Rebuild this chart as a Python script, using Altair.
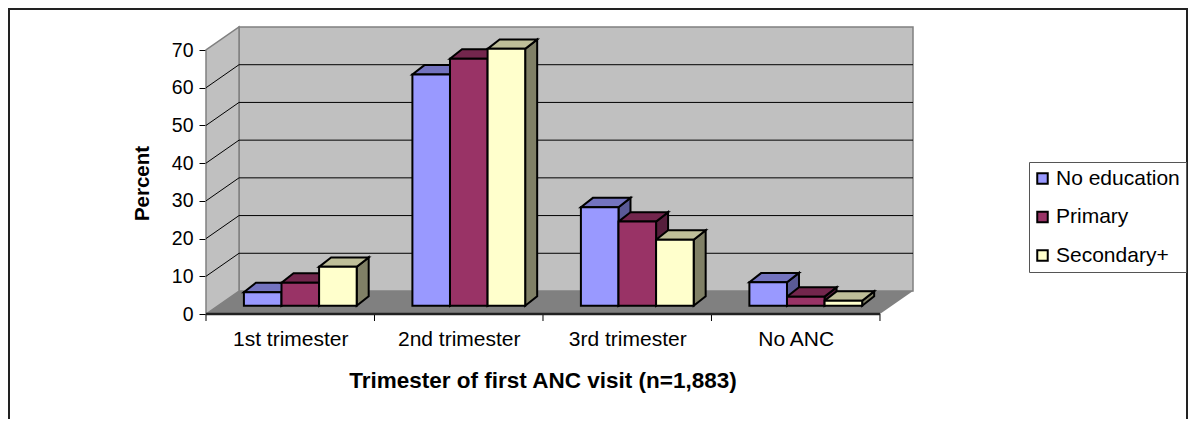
import altair as alt
import pandas as pd

categories = ["1st trimester", "2nd trimester", "3rd trimester", "No ANC"]
series = ["No education", "Primary", "Secondary+"]
no_education = [3.6, 61.3, 26.1, 6.2]
primary = [6.1, 65.5, 22.3, 2.4]
secondary = [10.3, 68.1, 17.5, 1.3]
front_colors = ["#9999FF", "#993366", "#FFFFCC"]
top_colors = ["#7373BF", "#73264D", "#BFBF99"]
side_colors = ["#5A5A96", "#561E3C", "#808066"]
y_ticks = [0, 10, 20, 30, 40, 50, 60, 70]

FONT = "Liberation Sans"
PW, PH = 707, 287
PAD_L, PAD_T = 198, 19
SVG_W, SVG_H = 1180, 411

# Oblique projection: depth of the box expressed in axis units
BOX_DX, BOX_DY = 0.196, 6.1      # whole floor depth
BAR_DX, BAR_DY = 0.0712, 2.5     # depth of one bar
BASE = 2.2                       # bar base sits this far up the floor
GAP, BW = 0.225, 0.2231
XMAX, YMAX = 4 + BOX_DX, 70 + BOX_DY

xs = alt.Scale(domain=[0, XMAX], nice=False, zero=False)
ys = alt.Scale(domain=[0, YMAX], nice=False, zero=False)

label_expr = "[" + ",".join(f"'{c}'" for c in categories) + "][floor(datum.value)]"
x_axis = alt.Axis(
    values=[i + 0.5 for i in range(len(categories))], labelExpr=label_expr, ticks=False, domain=False,
    grid=False, labelFont=FONT, labelFontSize=21, labelColor="#000000", labelPadding=14,
    labelFlush=False, labelOverlap=False, labelLimit=300,
    title="Trimester of first ANC visit (n=1,883)", titleFont=FONT, titleFontSize=22.5, titleFontWeight="bold",
    titleColor="#000000", titlePadding=20.5, titleX=336.5)
y_axis = alt.Axis(
    values=y_ticks, domain=False, grid=False, tickSize=7, tickColor="#000000", tickWidth=1,
    labelFont=FONT, labelFontSize=19.5, labelColor="#000000", labelPadding=6, labelOverlap=False,
    title="Percent", titleFont=FONT, titleFontSize=20.5, titleFontWeight="bold", titleColor="#000000",
    titlePadding=19, titleY=156)

X = lambda f="x": alt.X(f"{f}:Q", scale=xs, axis=x_axis)
Y = lambda f="y": alt.Y(f"{f}:Q", scale=ys, axis=y_axis, stack=None)

# Walls
back = pd.DataFrame([{"x": BOX_DX, "x2": XMAX, "y": BOX_DY, "y2": YMAX}])
wall = pd.DataFrame([{"x": 0, "y": 0, "y2": 70}, {"x": BOX_DX, "y": BOX_DY, "y2": YMAX}])
floor = pd.DataFrame([{"y": 0, "x": 0, "x2": 4}, {"y": BOX_DY, "x": BOX_DX, "x2": XMAX}])

l_back = alt.Chart(back).mark_rect(fill="#C0C0C0", stroke="#808080", strokeWidth=1.5).encode(
    x=X(), x2="x2:Q", y=Y(), y2="y2:Q")
l_wall = alt.Chart(wall).mark_area(fill="#C0C0C0", stroke="#808080", strokeWidth=1.5, orient="vertical").encode(
    x=X(), y=Y(), y2="y2:Q")
l_floor = alt.Chart(floor).mark_area(fill="#808080", orient="horizontal").encode(
    y=Y(), x=X(), x2="x2:Q")

# Gridlines: back-wall horizontals and side-wall diagonals
grid_rows = []
for v in y_ticks[1:-1]:
    grid_rows.append({"g": f"b{v}", "x": BOX_DX, "y": v + BOX_DY})
    grid_rows.append({"g": f"b{v}", "x": XMAX, "y": v + BOX_DY})
    grid_rows.append({"g": f"s{v}", "x": 0, "y": v})
    grid_rows.append({"g": f"s{v}", "x": BOX_DX, "y": v + BOX_DY})
l_grid = alt.Chart(pd.DataFrame(grid_rows)).mark_line(color="#000000", strokeWidth=1).encode(
    x=X(), y=Y(), detail="g:N")

# Bars
values = [no_education, primary, secondary]
side_rows, top_rows, front_rows = [], [], []
for c, cat in enumerate(categories):
    for s, name in enumerate(series):
        v = values[s][c]
        x0 = c + GAP + s * BW
        x1 = x0 + BW
        key = f"{c}-{s}"
        side_rows += [
            {"k": key, "x": x1, "y": BASE, "y2": BASE + v, "f": side_colors[s]},
            {"k": key, "x": x1 + BAR_DX, "y": BASE + BAR_DY, "y2": BASE + v + BAR_DY, "f": side_colors[s]},
        ]
        top_rows += [
            {"k": key, "y": BASE + v, "x": x0, "x2": x1, "f": top_colors[s]},
            {"k": key, "y": BASE + v + BAR_DY, "x": x0 + BAR_DX, "x2": x1 + BAR_DX, "f": top_colors[s]},
        ]
        front_rows.append({"cat": cat, "Series": name, "x": x0, "x2": x1, "y": BASE, "y2": BASE + v})

BAR_STROKE = dict(stroke="#000000", strokeWidth=2, strokeJoin="miter")
l_side = alt.Chart(pd.DataFrame(side_rows)).mark_area(orient="vertical", **BAR_STROKE).encode(
    x=X(), y=Y(), y2="y2:Q", fill=alt.Fill("f:N", scale=None), detail="k:N")
l_top = alt.Chart(pd.DataFrame(top_rows)).mark_area(orient="horizontal", **BAR_STROKE).encode(
    y=Y(), x=X(), x2="x2:Q", fill=alt.Fill("f:N", scale=None), detail="k:N")
l_front = alt.Chart(pd.DataFrame(front_rows)).mark_rect(**BAR_STROKE).encode(
    x=X(), x2="x2:Q", y=Y(), y2="y2:Q",
    color=alt.Color("Series:N", sort=series,
                    scale=alt.Scale(domain=series, range=front_colors),
                    legend=alt.Legend(
                        title=None, orient="none", legendX=823, legendY=135,
                        symbolType="square", symbolSize=110, symbolStrokeColor="#000000",
                        symbolStrokeWidth=2, symbolOpacity=1, symbolOffset=-3,
                        labelFont=FONT, labelFontSize=21, labelColor="#000000", labelOffset=3,
                        rowPadding=16.5, strokeColor="#555555", padding=6,
                        fillColor="#FFFFFF", labelLimit=200)))

# Category ticks and the front floor edge
l_xticks = alt.Chart(pd.DataFrame({"x": [0, 1, 2, 3, 4]})).mark_rule(color="#000000", strokeWidth=1).encode(
    x=X(), y=alt.value(PH), y2=alt.value(PH + 7))
l_edge = alt.Chart(pd.DataFrame({"x": [0], "x2": [4], "y": [0]})).mark_rule(color="#222222", strokeWidth=2.5).encode(
    x=X(), x2="x2:Q", y=Y())

# Outer chart frame (its bottom runs past the picture, as in the source)
l_frame = alt.Chart(pd.DataFrame({"a": [0]})).mark_rect(
    fill=None, stroke="#222222", strokeWidth=2, clip=False).encode(
    x=alt.value(-PAD_L + 1), x2=alt.value(SVG_W - PAD_L - 1),
    y=alt.value(-PAD_T + 1), y2=alt.value(SVG_H - PAD_T + 20))

chart = alt.layer(l_frame, l_back, l_wall, l_floor, l_grid, l_xticks, l_edge, l_side, l_top, l_front).properties(
    width=PW, height=PH,
    padding={"left": PAD_L, "top": PAD_T, "right": SVG_W - PAD_L - PW, "bottom": SVG_H - PAD_T - PH},
    autosize=alt.AutoSizeParams(type="none"),
    background="#FFFFFF",
).configure_view(stroke=None)

chart.save("out.html", embed_options={"renderer": "svg", "actions": False})
